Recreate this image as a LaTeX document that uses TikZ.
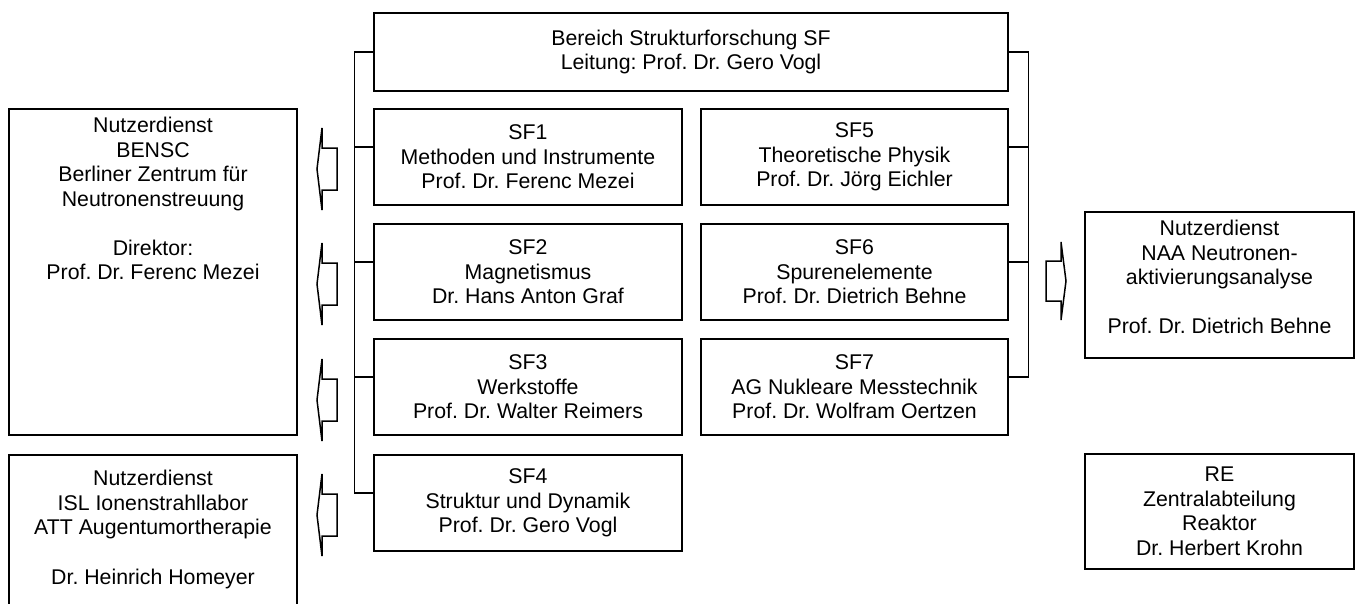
\documentclass[tikz,border=0pt]{standalone}
\usepackage{fontspec}
\setmainfont{Liberation Sans}
\frenchspacing
\usetikzlibrary{calc}
\tikzset{
  txtfont/.style={font=\fontsize{21.3}{24.5}\selectfont},
  box/.style={draw, line width=1.5pt, inner sep=0pt, align=center, txtfont},
  txt/.style={inner sep=0pt, align=center, txtfont},
  bus/.style={line width=1.5pt},
  larrow/.pic={\draw[line width=1.5pt, line join=miter]
     (0,0) -- (5,-41) -- (5,-21) -- (20,-21) -- (20,21) -- (5,21) -- (5,41) -- cycle;},
  rarrow/.pic={\draw[line width=1.5pt, line join=miter]
     (0,0) -- (-5,-39) -- (-5,-20) -- (-20,-20) -- (-20,20) -- (-5,20) -- (-5,39) -- cycle;}
}
\begin{document}
\begin{tikzpicture}[x=1pt,y=-1pt]
\useasboundingbox (0,0) rectangle (1359,603);
\clip (0,0) rectangle (1359,603);
\fill[white] (0,0) rectangle (1359,603);

\node[box, minimum width=634, minimum height=78] (top) at (691,52)
  {Bereich Strukturforschung SF\\Leitung: Prof. Dr. Gero Vogl};

\node[box, minimum width=308, minimum height=96] (sf1) at (528,157)
  {SF1\\Methoden und Instrumente\\Prof. Dr. Ferenc Mezei};
\node[box, minimum width=308, minimum height=96] (sf2) at (528,272)
  {SF2\\Magnetismus\\Dr. Hans Anton Graf};
\node[box, minimum width=308, minimum height=96] (sf3) at (528,387)
  {SF3\\Werkstoffe\\Prof. Dr. Walter Reimers};
\node[box, minimum width=308, minimum height=96] (sf4) at (528,503)
  {SF4\\Struktur und Dynamik\\Prof. Dr. Gero Vogl};

\node[box, minimum width=307, minimum height=96] (sf5) at (854.5,157)
  {SF5\\Theoretische Physik\\Prof. Dr. Jörg Eichler};
\node[box, minimum width=307, minimum height=96] (sf6) at (854.5,272)
  {SF6\\Spurenelemente\\Prof. Dr. Dietrich Behne};
\node[box, minimum width=307, minimum height=96] (sf7) at (854.5,387)
  {SF7\\AG Nukleare Messtechnik\\Prof. Dr. Wolfram Oertzen};

\node[box, minimum width=288, minimum height=326] (bensc) at (153,272) {};
\node[txt, anchor=north] (benscT) at (153,117)
  {Nutzerdienst\\BENSC\\Berliner Zentrum für\\Neutronenstreuung\\[24.5pt]Direktor:\\Prof. Dr. Ferenc Mezei};

\node[box, minimum width=288, minimum height=180] (isl) at (153,545) {};
\node[txt, anchor=north] (islT) at (153,470)
  {Nutzerdienst\\ISL Ionenstrahllabor\\ATT Augentumortherapie\\[25.5pt]Dr. Heinrich Homeyer};

\node[box, minimum width=269, minimum height=146] (naa) at (1219.5,285) {};
\node[txt, anchor=north] (naaT) at (1219.5,220)
  {Nutzerdienst\\NAA Neutronen-\\aktivierungsanalyse\\[24.5pt]Prof. Dr. Dietrich Behne};

\node[box, minimum width=269, minimum height=115] (re) at (1219.5,511.5)
  {RE\\Zentralabteilung\\Reaktor\\Dr. Herbert Krohn};

% left bus
\draw[bus] (top.west) -| ($(sf4.west)+(-19,-10)$) -- ($(sf4.west)+(0,-10)$);
\foreach \n in {sf1,sf2,sf3}
  \draw[bus] ($(\n.west)+(0,-10)$) -- ++(-19,0);
% right bus
\draw[bus] (top.east) -| ($(sf7.east)+(19.5,-10)$) -- ($(sf7.east)+(0,-10)$);
\foreach \n in {sf5,sf6}
  \draw[bus] ($(\n.east)+(0,-10)$) -- ++(19.5,0);

% block arrows
\pic (a1) at (317,169) {larrow};
\pic (a2) at (317,284) {larrow};
\pic (a3) at (317,400) {larrow};
\pic (a4) at (317,515) {larrow};
\pic (a5) at (1066,281) {rarrow};
\end{tikzpicture}
\end{document}
